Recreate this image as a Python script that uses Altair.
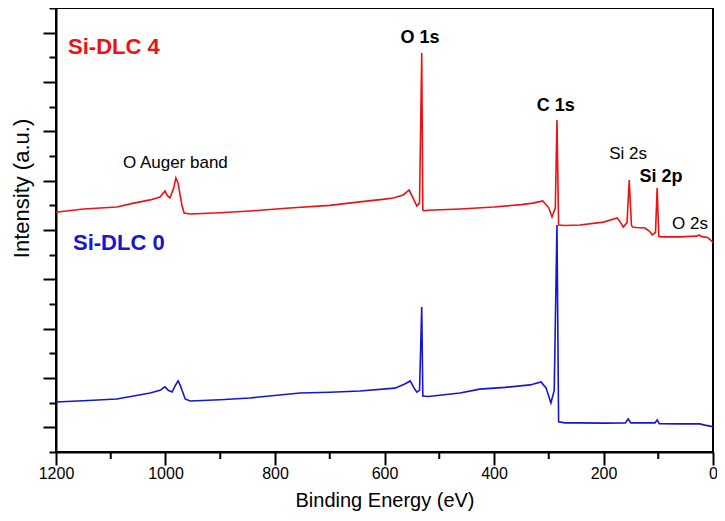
import altair as alt
import pandas as pd

# Si-DLC 4 (red) spectrum: binding energy (eV) and intensity (arb. units)
energy_red = [1200, 1150, 1089, 1060, 1028, 1010, 1004, 1001, 997, 992, 985, 981, 977, 974, 970, 966,
              955, 900, 846, 780, 700, 645, 600, 584, 566, 555, 548, 541, 536, 532, 530, 528, 520,
              462, 400, 350, 329, 311, 300, 294, 288, 285, 282, 270, 243, 200, 175, 170, 164, 157,
              153, 149, 147, 140, 124, 116, 111, 105, 102, 99, 96, 60, 30, 25, 22, 10, 0]
intensity_red = [9.72, 9.85, 9.93, 10.08, 10.22, 10.34, 10.50, 10.58, 10.40, 10.30, 10.70, 11.11, 10.90,
                 10.50, 10.00, 9.69, 9.65, 9.70, 9.77, 9.88, 10.00, 10.14, 10.25, 10.30, 10.42, 10.62,
                 10.30, 9.97, 10.10, 16.18, 9.81, 9.78, 9.80, 9.85, 9.93, 10.03, 10.09, 10.18, 9.90,
                 9.53, 9.90, 13.46, 9.20, 9.18, 9.20, 9.32, 9.49, 9.35, 9.12, 9.30, 11.03, 9.20, 9.12,
                 9.10, 9.08, 8.95, 8.80, 8.90, 10.70, 8.75, 8.72, 8.72, 8.75, 8.80, 8.74, 8.70, 8.51]

# Si-DLC 0 (blue) spectrum
energy_blue = [1200, 1150, 1089, 1028, 1010, 1001, 995, 988, 982, 977, 973, 970, 964, 955, 900, 846,
               754, 700, 645, 581, 563, 553, 546, 541, 536, 532, 530, 520, 462, 426, 380, 334, 314,
               305, 296, 290, 285, 282, 270, 243, 200, 160, 155, 150, 106, 102, 98, 60, 24, 15, 5, 0]
intensity_blue = [2.03, 2.08, 2.15, 2.39, 2.50, 2.64, 2.50, 2.43, 2.70, 2.88, 2.70, 2.51, 2.15, 2.07,
                  2.12, 2.19, 2.39, 2.42, 2.47, 2.59, 2.76, 2.88, 2.59, 2.43, 2.50, 5.88, 2.27, 2.25,
                  2.39, 2.55, 2.62, 2.72, 2.84, 2.60, 1.99, 2.50, 9.20, 1.22, 1.18, 1.18, 1.17, 1.18,
                  1.34, 1.18, 1.18, 1.30, 1.15, 1.14, 1.14, 1.09, 1.05, 1.01]

series_names = ["Si-DLC 4", "Si-DLC 0"]
series_colors = ["#ee1111", "#1515d8"]

# Peak annotations
peak_bold_text = ["O 1s", "C 1s", "Si 2p"]
peak_bold_E = [535, 287, 95]
peak_bold_I = [16.78, 14.03, 11.15]

peak_norm_text = ["O Auger band", "Si 2s", "O 2s"]
peak_norm_E = [982, 155, 42]
peak_norm_I = [11.72, 12.08, 9.24]

sample_E = [1178, 1169]
sample_I = [16.42, 8.47]

x_major_ticks = list(range(0, 1201, 200))
x_minor_ticks = list(range(100, 1200, 200))
y_ticks = list(range(0, 19))

FONT = "Liberation Sans"
PLOT_W, PLOT_H = 657, 444
MINOR_LEN = 7

df = pd.concat([
    pd.DataFrame({"E": energy_red, "I": intensity_red, "s": series_names[0]}),
    pd.DataFrame({"E": energy_blue, "I": intensity_blue, "s": series_names[1]}),
], ignore_index=True)

x_scale = alt.Scale(domain=[1200, 0], nice=False, zero=False)
y_scale = alt.Scale(domain=[0, 18], nice=False, zero=False)

x_axis = alt.Axis(
    values=x_major_ticks, format="d", tickCount=100, orient="bottom",
    tickSize=13, tickWidth=2, tickColor="black", domainWidth=2, domainColor="black",
    labelFontSize=16, labelColor="black", labelFont=FONT, labelPadding=0, labelOverlap=False,
    title="Binding Energy (eV)", titleFontSize=20, titleFont=FONT, titleFontWeight="normal",
    titleColor="black", titlePadding=9, grid=False, labelFlush=False,
)
y_axis = alt.Axis(
    values=y_ticks, labels=False, tickCount=100,
    tickSize=13,
    tickDash={"condition": {"test": "datum.value % 2 == 1", "value": [13, 0]}, "value": [7, 30]},
    tickWidth=2, tickColor="black", domainWidth=2, domainColor="black",
    title="Intensity (a.u.)", titleFontSize=22, titleFont=FONT, titleFontWeight="normal",
    titleColor="black", titleX=-35, titleY=180, titleAnchor="middle", titleBaseline="middle",
    grid=False,
)

lines = alt.Chart(df).mark_line(strokeWidth=1.6).encode(
    x=alt.X("E:Q", scale=x_scale, axis=x_axis),
    y=alt.Y("I:Q", scale=y_scale, axis=y_axis),
    color=alt.Color("s:N", scale=alt.Scale(domain=series_names, range=series_colors), legend=None),
    detail="s:N",
)

bold_df = pd.DataFrame({"E": peak_bold_E, "I": peak_bold_I, "t": peak_bold_text})
norm_df = pd.DataFrame({"E": peak_norm_E, "I": peak_norm_I, "t": peak_norm_text})
samp_df = pd.DataFrame({"E": sample_E, "I": sample_I, "t": series_names})
minor_df = pd.DataFrame({"E": x_minor_ticks})

bold_txt = alt.Chart(bold_df).mark_text(font=FONT, fontSize=18, fontWeight="bold", color="black",
                                        align="center", baseline="middle").encode(
    x=alt.X("E:Q", scale=x_scale), y=alt.Y("I:Q", scale=y_scale), text="t:N")
norm_txt = alt.Chart(norm_df).mark_text(font=FONT, fontSize=17, color="black",
                                        align="center", baseline="middle").encode(
    x=alt.X("E:Q", scale=x_scale), y=alt.Y("I:Q", scale=y_scale), text="t:N")
samp_txt = alt.Chart(samp_df).mark_text(font=FONT, fontSize=22, fontWeight="bold",
                                        align="left", baseline="middle").encode(
    x=alt.X("E:Q", scale=x_scale), y=alt.Y("I:Q", scale=y_scale), text="t:N",
    color=alt.Color("t:N", scale=alt.Scale(domain=series_names, range=series_colors), legend=None))

# minor x-axis ticks, hanging below the bottom edge at the odd hundreds
minor_ticks = alt.Chart(minor_df).mark_rule(color="black", strokeWidth=2).encode(
    x=alt.X("E:Q", scale=x_scale),
    y=alt.value(PLOT_H),
    y2=alt.value(PLOT_H + MINOR_LEN),
)

chart = alt.layer(lines, bold_txt, norm_txt, samp_txt, minor_ticks).properties(
    width=PLOT_W, height=PLOT_H,
    autosize=alt.AutoSizeParams(type="none"),
    padding={"left": 48, "top": 0, "right": 4, "bottom": 61},
    background="white",
).configure_view(stroke="black", strokeWidth=2)

chart.save("out.html", embed_options={"renderer": "svg", "actions": False})
